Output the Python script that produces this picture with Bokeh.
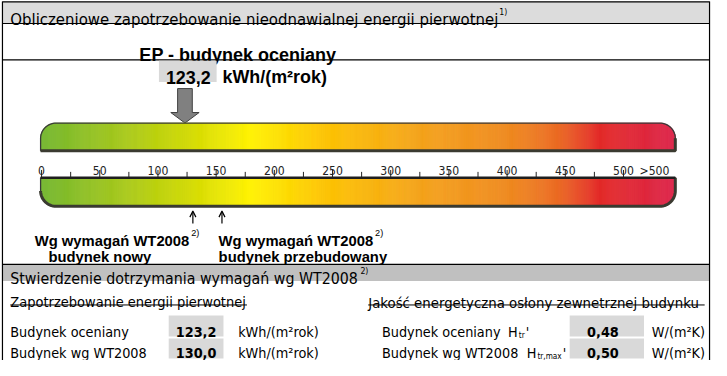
import numpy as np
from bokeh.plotting import figure
from bokeh.models import Range1d, Arrow, OpenHead
from bokeh.core.properties import value
from bokeh.embed import file_html
from bokeh.resources import INLINE

# ---------------- data ----------------
ep_value = 123.2                 # EP - budynek oceniany
wt2008_new = 130.0               # Wg wymagań WT2008 - budynek nowy
wt2008_rebuilt = 155.0           # Wg wymagań WT2008 - budynek przebudowany
major_ticks = [0, 50, 100, 150, 200, 250, 300, 350, 400, 450, 500]
major_labels = ["0", "50", "100", "150", "200", "250", "300", "350", "400", "450", "500"]
minor_ticks = [25, 75, 125, 175, 225, 275, 325, 375, 425, 475]
overflow_label = ">500"
ep_table = ["123,2", "130,0"]
htr_table = ["0,48", "0,50"]
row_labels_left = ["Budynek oceniany", "Budynek wg WT2008"]
row_labels_right = ["Budynek oceniany", "Budynek wg WT2008"]

# ---------------- layout helpers ----------------
REF_W, REF_H = 727, 376
W, H = 711, 360
FS = 0.965  # font scale
NARROW = "DejaVu Sans Condensed"
ARIAL = "Liberation Sans"

p = figure(width=W, height=H, x_range=Range1d(0, REF_W), y_range=Range1d(REF_H, 0),
           x_axis_type=None, y_axis_type=None, output_backend="svg",
           toolbar_location=None, min_border=0)
p.grid.visible = False
p.outline_line_color = None
p.background_fill_color = "white"

# value scale: 0 -> 42 px, 500 -> 637 px
PX0, PX500 = 42.0, 637.0
K = (PX500 - PX0) / 500.0
p.extra_x_ranges = {"val": Range1d(-PX0 / K, (REF_W - PX0) / K)}


def txt(x, y, s, size, font=NARROW, style="normal", align="left", color="black",
        xr="default", x_offset=0):
    p.text(x=[x], y=[y], text=[s], text_font=value(font), text_font_size=f"{size * FS:.1f}px",
           text_font_style=style, text_align=align, text_baseline="alphabetic",
           text_color=color, x_range_name=xr, x_offset=x_offset)


def hline(y, x0=2, x1=725, w=1.2, c="black"):
    p.segment(x0=[x0], y0=[y], x1=[x1], y1=[y], line_color=c, line_width=w)


# ---------------- frame ----------------
p.quad(left=[2], right=[725], top=[1], bottom=[24], fill_color="#dcdcdc", line_color=None)
p.quad(left=[2], right=[725], top=[276], bottom=[293], fill_color="#c0c0c0", line_color=None)
hline(1.5)
hline(24)
hline(62)
hline(275.5)
p.segment(x0=[2, 725], y0=[1, 1], x1=[2, 725], y1=[376, 376], line_color="black", line_width=1.2)

# title
txt(10, 20, "Obliczeniowe zapotrzebowanie nieodnawialnej energii pierwotnej", 17.2)
txt(510, 12, "1)", 9)

# EP header
txt(142, 57, "EP - budynek oceniany", 18.7, font=ARIAL, style="bold")
p.quad(left=[162], right=[221], top=[63], bottom=[85], fill_color="#d9d9d9", line_color=None)
txt(192, 80, f"{ep_value:.1f}".replace(".", ","), 18.5, font=ARIAL, style="bold", align="center")
txt(227, 80, "kWh/(m²rok)", 18.5, font=ARIAL, style="bold")

# block arrow pointing at EP value (in value units)
sh, hh = 7.5 / K, 14.5 / K
ax = [ep_value - sh, ep_value + sh, ep_value + sh, ep_value + hh, ep_value,
      ep_value - hh, ep_value - sh]
ay = [92, 92, 117, 117, 128, 117, 117]
p.patch(x=ax, y=ay, fill_color="#808080", line_color="#404040", line_width=1, x_range_name="val")

# ---------------- gradient bars ----------------
stops_x = [41, 120, 190, 255, 330, 430, 520, 570, 612, 690]
stops_c = ["#72b62e", "#a3c71c", "#cfd800", "#fff200", "#fdc400", "#f4a21a", "#ef891e",
           "#eb6a22", "#e32a27", "#dc2349"]


def hex2rgb(h):
    return np.array([int(h[i:i + 2], 16) for i in (1, 3, 5)], dtype=float)


stops_rgb = np.array([hex2rgb(c) for c in stops_c])
BX0, BX1, R = 41.0, 690.0, 16.0
edges = np.arange(BX0, BX1 + 0.001, 1.0)
cent = (edges[:-1] + edges[1:]) / 2
rgb = np.stack([np.interp(cent, stops_x, stops_rgb[:, i]) for i in range(3)], axis=1)
cols = ["#%02x%02x%02x" % tuple(int(round(v)) for v in c) for c in rgb]
dx = np.maximum(0, np.maximum(BX0 + R - cent, cent - (BX1 - R)))
off = R - np.sqrt(np.maximum(0, R * R - dx * dx))

T0, T1 = 128.0, 157.0
B0, B1 = 185.0, 215.0
p.quad(left=edges[:-1], right=edges[1:], top=T0 + off, bottom=T1, fill_color=cols,
       line_color=cols, line_width=0.6)
p.quad(left=edges[:-1], right=edges[1:], top=B0, bottom=B1 - off, fill_color=cols,
       line_color=cols, line_width=0.6)


def arc(cx, cy, a0, a1, n=16):
    t = np.linspace(np.radians(a0), np.radians(a1), n)
    return list(cx + R * np.cos(t)), list(cy + R * np.sin(t))


# top bar outline
x1, y1 = arc(BX0 + R, T0 + R, 180, 270)
x2, y2 = arc(BX1 - R, T0 + R, 270, 360)
ox = [BX0] + x1 + x2 + [BX1, BX0]
oy = [T1] + y1 + y2 + [T1, T1]
p.line(ox, oy, line_color="#3a3a3a", line_width=1.3)
p.line([BX0, BX1, BX1], [T1, T1, T0 + R], line_color="#3a3a30", line_width=3)

# bottom bar outline
x3, y3 = arc(BX1 - R, B1 - R, 0, 90)
x4, y4 = arc(BX0 + R, B1 - R, 90, 180)
ox = [BX0, BX1] + x3 + x4 + [BX0]
oy = [B0, B0] + y3 + y4 + [B0]
p.line(ox, oy, line_color="#3a3a3a", line_width=1.3)
p.line([BX1] + x3 + x4, [B0] + y3 + y4, line_color="#3a3a30", line_width=3)
p.line([BX0, BX1], [B0, B0], line_color="#1e1e1e", line_width=2.5)

# ticks and labels
p.segment(x0=major_ticks, y0=[177] * len(major_ticks), x1=major_ticks, y1=[185] * len(major_ticks),
          line_color="#222222", line_width=1, x_range_name="val")
p.segment(x0=minor_ticks, y0=[179] * len(minor_ticks), x1=minor_ticks, y1=[185] * len(minor_ticks),
          line_color="#222222", line_width=1, x_range_name="val")
p.text(x=major_ticks, y=[178] * len(major_ticks), text=major_labels, text_font=value(NARROW),
       text_font_size=f"{12.5 * FS:.1f}px", text_align="center", text_baseline="alphabetic",
       text_color="#222222", x_range_name="val")
txt(major_ticks[-1], 178, overflow_label, 12.5, align="center", color="#222222", xr="val",
    x_offset=31)

# requirement arrows
for v in (wt2008_new, wt2008_rebuilt):
    p.add_layout(Arrow(x_start=v, y_start=233, x_end=v, y_end=220, x_range_name="val",
                       line_color="black", line_width=1.2,
                       end=OpenHead(size=6, line_width=1.2, line_color="black")))

txt(35, 251, "Wg wymagań WT2008", 15.3, font=ARIAL, style="bold")
txt(195, 243, "2)", 9.5, font=ARIAL)
txt(49, 268, "budynek nowy", 15.3, font=ARIAL, style="bold")
txt(223, 251, "Wg wymagań WT2008", 15.3, font=ARIAL, style="bold")
txt(383, 243, "2)", 9.5, font=ARIAL)
txt(223, 268, "budynek przebudowany", 15.3, font=ARIAL, style="bold")

# ---------------- compliance section ----------------
txt(10, 290, "Stwierdzenie dotrzymania wymagań wg WT2008", 16.4)
txt(368, 282, "2)", 9)

txt(10, 315, "Zapotrzebowanie energii pierwotnej", 15)
hline(318, 10, 252, w=1)
txt(376, 315, "Jakość energetyczna osłony zewnetrznej budynku", 15.3)
hline(318, 376, 720, w=1)

row_y = [346, 368]
box_top = [329, 353]
box_bot = [351, 374]
for i in range(2):
    txt(10, row_y[i], row_labels_left[i], 14.8)
    p.quad(left=[172], right=[228], top=[box_top[i]], bottom=[box_bot[i]], fill_color="#d9d9d9",
           line_color=None)
    txt(200, row_y[i], ep_table[i], 14.8, style="bold", align="center")
    txt(243, row_y[i], "kWh/(m²rok)", 14.8)
    p.quad(left=[582], right=[658], top=[box_top[i]], bottom=[box_bot[i]], fill_color="#d9d9d9",
           line_color=None)
    txt(616, row_y[i], htr_table[i], 14.8, style="bold", align="center")
    txt(666, row_y[i], "W/(m²K)", 14.8)
    txt(390, row_y[i], row_labels_right[i], 14.8)

txt(519, 346, "H", 14.8)
txt(530, 349, "tr", 8.5)
txt(537, 346, "'", 14.8)
txt(538, 368, "H", 14.8)
txt(549, 371, "tr,max", 8.5)
txt(575, 368, "'", 14.8)

open("out.html", "w").write(file_html(p, INLINE))
